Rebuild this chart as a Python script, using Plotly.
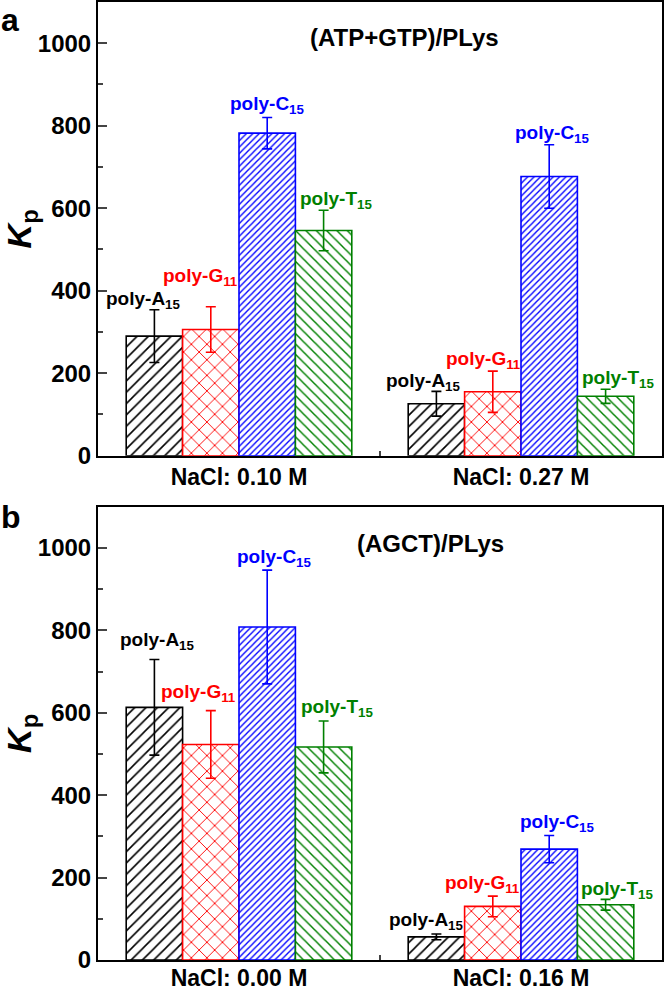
import plotly.graph_objects as go
from plotly.subplots import make_subplots

# ---------------- data ----------------
series_names = ["poly-A<sub>15</sub>", "poly-G<sub>11</sub>", "poly-C<sub>15</sub>", "poly-T<sub>15</sub>"]

cats_a = ["NaCl: 0.10 M", "NaCl: 0.27 M"]
vals_a_A = [290, 126]
vals_a_G = [306, 155]
vals_a_C = [782, 677]
vals_a_T = [546, 144]
err_a_A = [64, 30]
err_a_G = [55, 50]
err_a_C = [38, 77]
err_a_T = [49, 17]

cats_b = ["NaCl: 0.00 M", "NaCl: 0.16 M"]
vals_b_A = [613, 56]
vals_b_G = [523, 130]
vals_b_C = [808, 269]
vals_b_T = [517, 134]
err_b_A = [116, 7]
err_b_G = [82, 25]
err_b_C = [138, 33]
err_b_T = [63, 13]

title_a = "(ATP+GTP)/PLys"
title_b = "(AGCT)/PLys"
y_ticks = [0, 200, 400, 600, 800, 1000]

# ---------------- style ----------------
colors = ["#000000", "#ff0000", "#0000ff", "#008000"]
patterns = [dict(shape="/", size=8, solidity=0.2),
            dict(shape="x", size=11, solidity=0.16),
            dict(shape="/", size=4.5, solidity=0.3),
            dict(shape="\\", size=7.3, solidity=0.2)]
offsets = [-0.3, -0.1, 0.1, 0.3]
FONT = "Liberation Sans, Arial, sans-serif"

# label placement (pixel shifts relative to bar centre / error top)
lab_dx_a = [[-11, -10, 0, 12], [-13, -9, 3, 12]]
lab_dy_a = [[10, 30, 12, 10], [9, 11, 11, 10]]
lab_dx_b = [[3, -12, 7, 13], [-10, -10, 8, 11]]
lab_dy_b = [[19, 18, 12, 13], [13, 12, 13, 9]]

fig = make_subplots(rows=2, cols=1)

panels = [
    (1, cats_a, [vals_a_A, vals_a_G, vals_a_C, vals_a_T], [err_a_A, err_a_G, err_a_C, err_a_T], lab_dx_a, lab_dy_a),
    (2, cats_b, [vals_b_A, vals_b_G, vals_b_C, vals_b_T], [err_b_A, err_b_G, err_b_C, err_b_T], lab_dx_b, lab_dy_b),
]

annotations = []
for row, cats, vals, errs, ldx, ldy in panels:
    xref = "x" if row == 1 else "x2"
    yref = "y" if row == 1 else "y2"
    for i in range(4):
        fig.add_trace(go.Bar(
            x=cats, y=vals[i], name=series_names[i], showlegend=False,
            marker=dict(color="white",
                        line=dict(color=colors[i], width=1.6),
                        pattern=dict(fgcolor=colors[i], bgcolor="white", fillmode="replace", **patterns[i])),
            error_y=dict(type="data", array=errs[i], visible=True, color=colors[i], thickness=1.6, width=5),
        ), row=row, col=1)
        for g in range(2):
            annotations.append(dict(
                x=g + offsets[i], y=vals[i][g] + errs[i][g], xref=xref, yref=yref,
                text=series_names[i], showarrow=False, xanchor="center", yanchor="middle",
                xshift=ldx[g][i], yshift=ldy[g][i],
                font=dict(family=FONT, size=19, color=colors[i], weight="bold")))

# panel titles
annotations.append(dict(x=0.544, y=1013, xref="x domain", yref="y", text=title_a, showarrow=False,
                        font=dict(family=FONT, size=24, color="black", weight="bold")))
annotations.append(dict(x=0.59, y=1010, xref="x2 domain", yref="y2", text=title_b, showarrow=False,
                        font=dict(family=FONT, size=24, color="black", weight="bold")))
# panel letters
annotations.append(dict(x=-0.175, y=0.981, xref="paper", yref="paper", text="a", showarrow=False,
                        xanchor="left", yanchor="middle", font=dict(family=FONT, size=32, color="black", weight="bold")))
annotations.append(dict(x=-0.175, y=0.462, xref="paper", yref="paper", text="b", showarrow=False,
                        xanchor="left", yanchor="middle", font=dict(family=FONT, size=32, color="black", weight="bold")))

axis_common = dict(showline=True, linecolor="black", linewidth=2, mirror=True,
                   showgrid=False, zeroline=False, automargin=False)

for row in (1, 2):
    fig.update_xaxes(row=row, col=1, **axis_common, ticks="inside", ticklen=5, tickwidth=1.5,
                     tickson="boundaries", range=[-0.5, 1.5],
                     ticklabelstandoff=(0 if row == 1 else -4),
                     tickfont=dict(family=FONT, size=23, color="black", weight="bold"))
    fig.update_yaxes(row=row, col=1, **axis_common, range=[0, 1100], tickvals=y_ticks,
                     ticks="inside", ticklen=9, tickwidth=1.5,
                     minor=dict(ticks="inside", ticklen=5, tickwidth=1.5, dtick=100, tick0=0),
                     tickfont=dict(family=FONT, size=24, color="black", weight="bold"),
                     title=dict(text="<i>K</i><sub>p</sub>", standoff=2,
                                font=dict(family=FONT, size=34, color="black", weight="bold")))

fig.update_layout(
    width=666, height=988,
    margin=dict(l=98, r=4, t=2, b=28, autoexpand=False),
    plot_bgcolor="white", paper_bgcolor="white",
    barmode="group", bargap=0.2, bargroupgap=0,
    annotations=annotations,
)
fig.layout.yaxis.domain = [0.5264, 1.0]
fig.layout.yaxis2.domain = [0.0, 0.4732]
fig.layout.xaxis.domain = [0, 1]
fig.layout.xaxis2.domain = [0, 1]

fig.write_html("out.html", config={"displayModeBar": False},
               post_script="document.body.style.margin='0';document.body.style.overflow='hidden';")
